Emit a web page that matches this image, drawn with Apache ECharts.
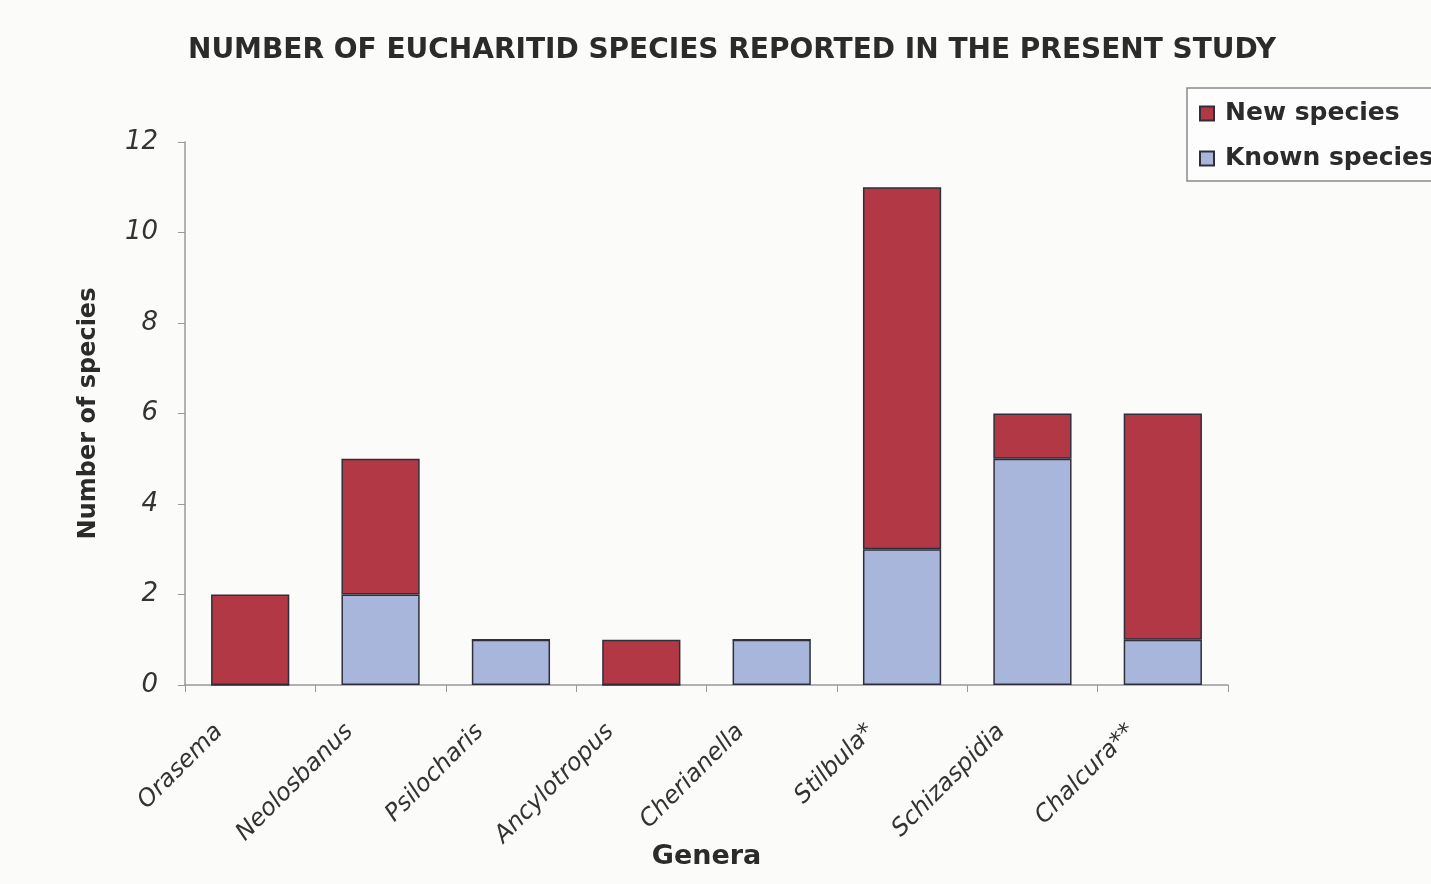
<!DOCTYPE html>
<html>
<head>
<meta charset="utf-8">
<script src="https://cdn.jsdelivr.net/npm/echarts@6/dist/echarts.min.js"></script>
<style>
  html, body { margin: 0; padding: 0; background: #fbfbfa; }
  #chart { width: 1431px; height: 884px; }
</style>
</head>
<body>
<div id="chart"></div>
<script>
// Eucharitid genera and species counts
const genera = ['Orasema', 'Neolosbanus', 'Psilocharis', 'Ancylotropus', 'Cherianella', 'Stilbula*', 'Schizaspidia', 'Chalcura**'];
const knownSpecies = [0, 2, 1, 0, 1, 3, 5, 1];
const newSpecies = [2, 3, 0, 1, 0, 8, 1, 5];
const yTicks = { min: 0, max: 12, interval: 2 };

const chart = echarts.init(document.getElementById('chart'));
const font = 'DejaVu Sans, Verdana, sans-serif';
const ink = '#2b2b2b';

chart.setOption({
  backgroundColor: '#fbfbfa',
  animation: false,
  title: {
    text: 'NUMBER OF EUCHARITID SPECIES REPORTED IN THE PRESENT STUDY',
    left: 727,
    top: 32,
    textAlign: 'center',
    textStyle: { fontFamily: font, fontSize: 28, fontWeight: 'bold', color: ink }
  },
  legend: {
    data: ['New species', 'Known species'],
    orient: 'vertical',
    left: 1187,
    top: 88,
    padding: [11, 80, 8, 12],
    itemGap: 16,
    itemWidth: 14,
    itemHeight: 14,
    icon: 'rect',
    borderColor: '#8a8a8a',
    borderWidth: 1.5,
    backgroundColor: '#fdfdfd',
    textStyle: { fontFamily: font, fontSize: 25, fontWeight: 'bold', color: ink, lineHeight: 29, padding: [0, 0, 0, 6] }
  },
  grid: { left: 185, right: 203, top: 142, bottom: 199, containLabel: false, outerBoundsMode: 'none' },
  xAxis: {
    type: 'category',
    data: genera,
    name: 'Genera',
    nameLocation: 'middle',
    nameGap: 158,
    nameMoveOverlap: false,
    nameTextStyle: { fontFamily: font, fontSize: 27, fontWeight: 'bold', color: ink },
    axisLine: { lineStyle: { color: '#999', width: 1.5 } },
    axisTick: { show: true, length: 7, lineStyle: { color: '#999' } },
    axisLabel: {
      rotate: 45,
      margin: 12,
      padding: [0, 44, 0, 0],
      fontFamily: font,
      fontSize: 24,
      fontStyle: 'italic',
      color: '#333'
    }
  },
  yAxis: {
    type: 'value',
    min: yTicks.min,
    max: yTicks.max,
    interval: yTicks.interval,
    name: 'Number of species',
    nameLocation: 'middle',
    nameGap: 84,
    nameMoveOverlap: false,
    nameTextStyle: { fontFamily: font, fontSize: 24, fontWeight: 'bold', color: ink },
    axisLine: { show: true, lineStyle: { color: '#999', width: 1.5 } },
    axisTick: { show: true, length: 7, lineStyle: { color: '#999' } },
    splitLine: { show: false },
    axisLabel: {
      margin: 27,
      fontFamily: font,
      fontSize: 26,
      fontStyle: 'italic',
      color: '#333'
    }
  },
  series: [
    {
      name: 'Known species',
      type: 'bar',
      stack: 'total',
      barWidth: '60%',
      data: knownSpecies,
      itemStyle: { color: '#a9b6dc', borderColor: '#2f2f3a', borderWidth: 1.5 }
    },
    {
      name: 'New species',
      type: 'bar',
      stack: 'total',
      barWidth: '60%',
      data: newSpecies,
      itemStyle: { color: '#b23845', borderColor: '#2f2f3a', borderWidth: 1.5 }
    }
  ]
});
</script>
</body>
</html>
